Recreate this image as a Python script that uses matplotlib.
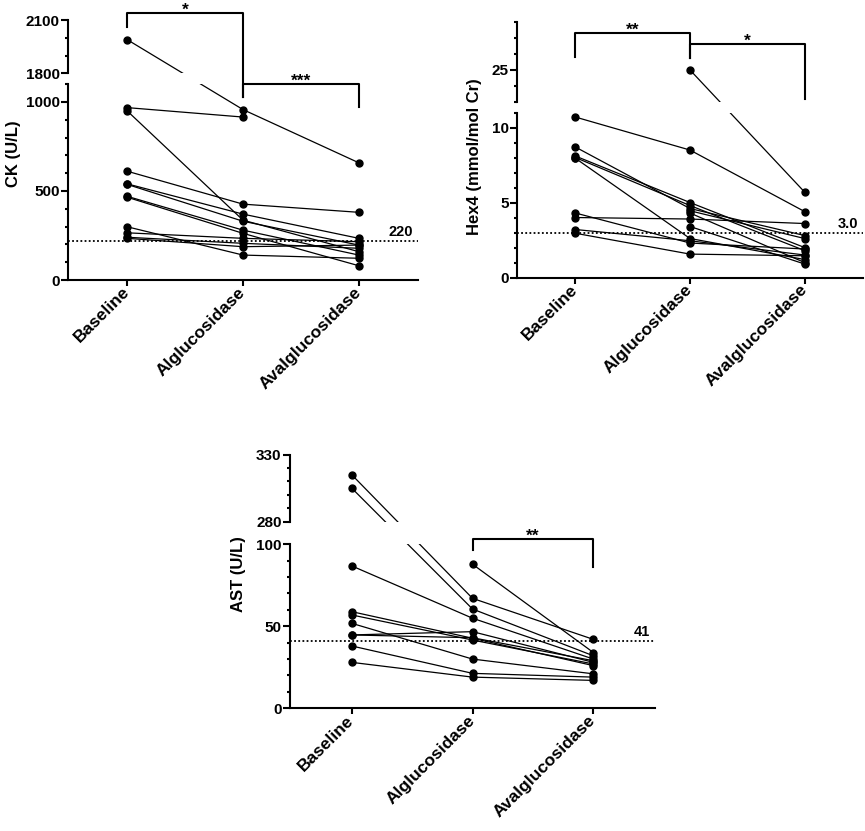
import numpy as np
import matplotlib
matplotlib.use("Agg")
import matplotlib.pyplot as plt
import matplotlib.transforms as mtransforms

plt.rcParams['font.family'] = ['Liberation Sans', 'DejaVu Sans']
plt.rcParams['font.weight'] = 'bold'

nan = np.nan
groups = ["Baseline", "Alglucosidase", "Avalglucosidase"]

# CK (U/L), one entry per patient
ck_baseline = [1990, 968, 950, 611, 540, 537, 470, 465, 299, 265, 240, 234]
ck_alglu = [957, 915, 336, 426, 370, 330, 280, 262, 140, 234, 206, 187]
ck_avalglu = [658, nan, 159, 380, 234, 196, 140, 80, 122, 215, 178, 196]

# Hex4 (mmol/mol Cr)
hex_baseline = [nan, 10.7, 8.7, 8.1, 8.0, 7.95, 4.3, 4.0, 3.2, 2.95, nan, nan, nan]
hex_alglu = [25.0, 8.5, 4.6, 5.0, 4.8, 2.6, 2.3, 3.9, 2.45, 1.56, 4.45, 4.3, 3.4]
hex_avalglu = [5.7, 4.4, 2.8, 2.0, 1.8, 1.2, 1.9, 3.6, 1.5, 1.45, 2.6, 1.0, 0.9]

# AST (U/L)
ast_baseline = [315, 305, 86.8, 58.9, 56.9, 51.8, 44.7, 44.7, 38, 28, nan]
ast_alglu = [67, 60.5, 54.9, 42.7, 41.6, 30, 46.7, 43.0, 21.3, 19, 87.8]
ast_avalglu = [42, 32, 30, 26, 27, 21, 28, 29, 19, 17, 34]


def break_scale(hi1, lo2, gap, k):
    # piecewise linear y scale: [0, hi1] | gap | [lo2, top] scaled by k
    top = hi1 + gap

    def fwd(v):
        v = np.asarray(v, float)
        return np.where(v <= hi1, v,
                        np.where(v >= lo2, top + (v - lo2) * k,
                                 hi1 + (v - hi1) / (lo2 - hi1) * gap))

    def inv(t):
        t = np.asarray(t, float)
        return np.where(t <= hi1, t,
                        np.where(t >= top, lo2 + (t - top) / k,
                                 hi1 + (t - hi1) / gap * (lo2 - hi1)))
    return fwd, inv


W, H = 865, 831
fig = plt.figure(figsize=(W / 100, H / 100), dpi=100)


def panel(box, series, ylabel, brk, ytop, majors, minors, ref, ref_label,
          brackets, label_xy):
    left, right, top, bottom = box
    ax = fig.add_axes([left / W, 1 - bottom / H, (right - left) / W, (bottom - top) / H])
    hi1, lo2, gap, k = brk
    ax.set_yscale('function', functions=break_scale(hi1, lo2, gap, k))
    ax.set_ylim(0, ytop)
    ax.set_xlim(-0.51, 2.51)

    b, a1, a2 = series
    x = np.arange(3)
    for row in zip(b, a1, a2):
        ax.plot(x, row, color='black', lw=0.9, marker='o', ms=5,
                mfc='black', mec='black', zorder=2, clip_on=False)

    # white band for the axis break
    ax.axhspan(hi1, lo2, color='white', lw=0, zorder=2.5)

    ax.axhline(ref, color='black', lw=1.3, ls=(0, (1, 1.3)), zorder=1.5)
    ax.annotate(ref_label, xy=(0.986, ref), xycoords=ax.get_yaxis_transform(),
                xytext=(0, 3.5), textcoords='offset points',
                ha='right', va='baseline', fontsize=10.5, fontweight='bold')

    for s in ['top', 'right', 'left']:
        ax.spines[s].set_visible(False)
    ax.spines['bottom'].set_linewidth(1.5)
    yt = ax.get_yaxis_transform()
    ax.plot([0, 0], [0, hi1], transform=yt, color='black', lw=1.5,
            clip_on=False, zorder=5, solid_capstyle='projecting')
    ax.plot([0, 0], [lo2, ytop], transform=yt, color='black', lw=1.5,
            clip_on=False, zorder=5, solid_capstyle='projecting')

    ax.set_yticks(majors, [f"{m:g}" for m in majors])
    ax.set_yticks(minors, minor=True)
    ax.tick_params(axis='y', which='major', length=5, width=1.5, labelsize=11, pad=1)
    ax.tick_params(axis='y', which='minor', length=2.5, width=1.5)
    ax.set_xticks(x, groups)
    ax.tick_params(axis='x', length=4, width=1.5, labelsize=12.5, pad=3)
    for lab in ax.get_xticklabels():
        lab.set_rotation(45)
        lab.set_ha('right')
        lab.set_va('center')
        lab.set_rotation_mode('anchor')
        lab.set_fontweight('bold')
    for lab in ax.get_yticklabels():
        lab.set_fontweight('bold')

    bt = mtransforms.blended_transform_factory(ax.transData, ax.transAxes)
    for x1, x2, yb, yl, yr, stars in brackets:
        ax.plot([x1, x1, x2, x2], [yl, yb, yb, yr], transform=bt, color='black',
                lw=1.5, clip_on=False, zorder=4)
        ax.annotate(stars, xy=((x1 + x2) / 2, yb), xycoords=bt,
                    xytext=(0, -1.5), textcoords='offset points',
                    ha='center', va='baseline', fontsize=12.5, fontweight='bold')

    fig.text(label_xy[0] / W, 1 - label_xy[1] / H, ylabel, rotation=90,
             ha='center', va='center', fontsize=12, fontweight='bold')
    return ax


panel((68, 418, 20, 280), (ck_baseline, ck_alglu, ck_avalglu), "CK (U/L)",
      (1100, 1800, 60, 1.0), 2100, [0, 500, 1000, 1800, 2100],
      [100, 200, 300, 400, 600, 700, 800, 900, 1100, 1900, 2000],
      220, "220",
      [(0, 1, 1.027, 0.973, 0.704, "*"), (1, 2, 0.754, 0.704, 0.665, "***")],
      (13.5, 154))

panel((517, 863, 22, 277.5), (hex_baseline, hex_alglu, hex_avalglu),
      "Hex4 (mmol/mol Cr)",
      (11, 23, 0.707, 16 / 15), 28, [0, 5, 10, 25],
      [1, 2, 3, 4, 6, 7, 8, 9, 11, 23, 24, 26, 27, 28],
      3.0, "3.0",
      [(0, 1, 0.958, 0.863, 0.859, "**"), (1, 2, 0.914, 0.859, 0.699, "*")],
      (474.5, 157))

panel((290, 655, 454.5, 708.3), (ast_baseline, ast_alglu, ast_avalglu),
      "AST (U/L)",
      (100, 280, 13.8, 1.34 / 1.64), 330, [0, 50, 100, 280, 330],
      [10, 20, 30, 40, 60, 70, 80, 90, 290, 300, 310, 320],
      41, "41",
      [(1, 2, 0.668, 0.624, 0.558, "**")],
      (238.5, 574))

fig.savefig("out.png", dpi=100)
